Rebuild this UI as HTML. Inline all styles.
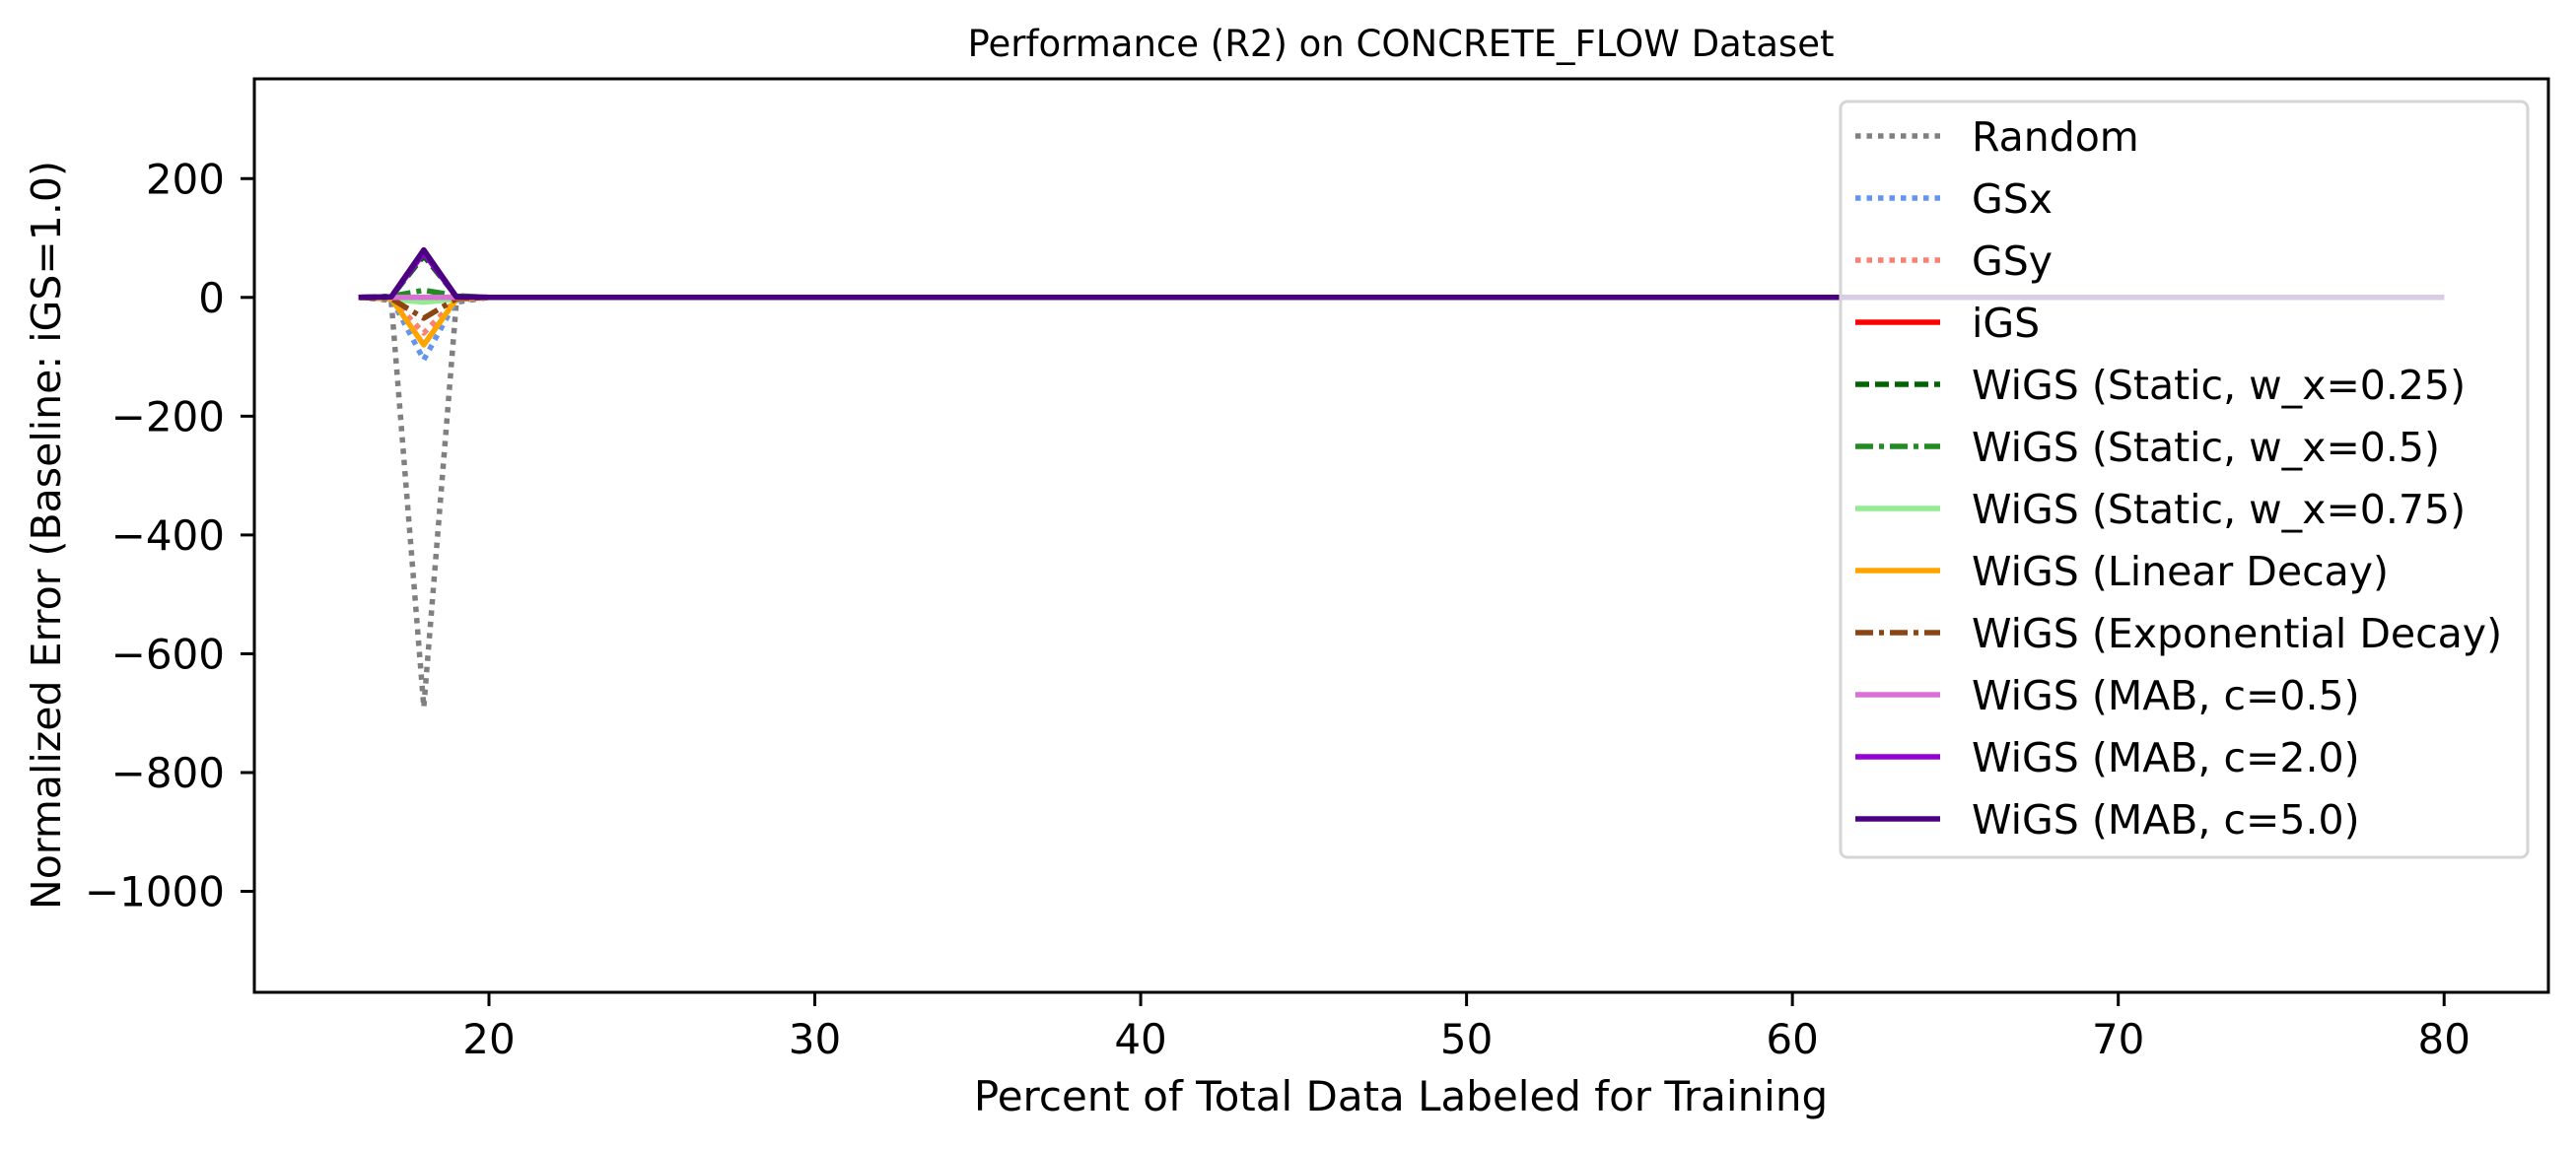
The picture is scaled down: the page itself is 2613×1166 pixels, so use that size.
<!DOCTYPE html>
<html><head><meta charset="utf-8"><style>html,body{margin:0;padding:0;background:#fff}svg{display:block;font-family:"DejaVu Sans","Liberation Sans",sans-serif}</style></head>
<body>
<svg id="chart" width="2613" height="1166" viewBox="0 0 2613 1166" xmlns="http://www.w3.org/2000/svg">
<rect width="2613" height="1166" fill="#fff"/>
<text x="1421" y="57" font-size="37" text-anchor="middle">Performance (R2) on CONCRETE_FLOW Dataset</text>
<g id="plot"></g>
<rect x="258" y="80" width="2327" height="927" fill="none" stroke="#000" stroke-width="3"/>
<g id="axes"></g>
<text x="1421" y="1127" font-size="42" text-anchor="middle">Percent of Total Data Labeled for Training</text>
<text transform="translate(61,543) rotate(-90)" font-size="41" text-anchor="middle">Normalized Error (Baseline: iGS=1.0)</text>
<g id="legend"></g>
</svg>
<script>
const xs = [16,17,18,19,20,25,30,35,40,45,50,55,60,65,70,75,80];
const randomVals = [0,-5,-690,-8,0,0,0,0,0,0,0,0,0,0,0,0,0];
const gsxVals = [0,-2,-105,-5,0,0,0,0,0,0,0,0,0,0,0,0,0];
const gsyVals = [0,-2,-60,-3,0,0,0,0,0,0,0,0,0,0,0,0,0];
const igsVals = [0,0,0,0,0,0,0,0,0,0,0,0,0,0,0,0,0];
const static25Vals = [0,1,70,2,0,0,0,0,0,0,0,0,0,0,0,0,0];
const static50Vals = [0,2,12,3,0,0,0,0,0,0,0,0,0,0,0,0,0];
const static75Vals = [0,-3,-8,-3,0,0,0,0,0,0,0,0,0,0,0,0,0];
const linearVals = [0,-2,-80,-3,0,0,0,0,0,0,0,0,0,0,0,0,0];
const expVals = [0,-2,-35,-2,0,0,0,0,0,0,0,0,0,0,0,0,0];
const mab05Vals = [0,0,0,0,0,0,0,0,0,0,0,0,0,0,0,0,0];
const mab2Vals = [0,1,75,1,0,0,0,0,0,0,0,0,0,0,0,0,0];
const mab5Vals = [0,1,80,1,0,0,0,0,0,0,0,0,0,0,0,0,0];
const xTicks = [20,30,40,50,60,70,80];
const yTicks = [200,0,-200,-400,-600,-800,-1000];
const seriesNames = ["Random","GSx","GSy","iGS","WiGS (Static, w_x=0.25)","WiGS (Static, w_x=0.5)","WiGS (Static, w_x=0.75)","WiGS (Linear Decay)","WiGS (Exponential Decay)","WiGS (MAB, c=0.5)","WiGS (MAB, c=2.0)","WiGS (MAB, c=5.0)"];

const NS="http://www.w3.org/2000/svg";
const X0=258,X1=2585,Y0=80,Y1=1007,xmin=12.8,xmax=83.2,ymin=-1170,ymax=368;
const sx=v=>X0+(v-xmin)/(xmax-xmin)*(X1-X0);
const sy=v=>Y1-(v-ymin)/(ymax-ymin)*(Y1-Y0);
const W=5.5;
const styles=[
 {c:"#808080",d:"5.5 6",v:randomVals},
 {c:"#6495ed",d:"5.5 6",v:gsxVals},
 {c:"#fa8072",d:"5.5 6",v:gsyVals},
 {c:"#ff0000",d:"",v:igsVals},
 {c:"#006400",d:"14 6",v:static25Vals},
 {c:"#228b22",d:"18 6 5 6",v:static50Vals},
 {c:"#90ee90",d:"",v:static75Vals},
 {c:"#ffa500",d:"",v:linearVals},
 {c:"#8b4513",d:"18 6 5 6",v:expVals},
 {c:"#da70d6",d:"",v:mab05Vals},
 {c:"#9400d3",d:"",v:mab2Vals},
 {c:"#4b0082",d:"",v:mab5Vals}];
const plot=document.getElementById('plot');
styles.forEach((s,i)=>{
 const p=document.createElementNS(NS,'polyline');
 p.setAttribute('points',xs.map((x,j)=>sx(x)+','+sy(s.v[j])).join(' '));
 p.setAttribute('fill','none');p.setAttribute('stroke',s.c);p.setAttribute('stroke-width',W);
 if(s.d)p.setAttribute('stroke-dasharray',s.d);
 p.setAttribute('stroke-linejoin','round');
 
 
 plot.appendChild(p);
});
const axes=document.getElementById('axes');
xTicks.forEach(t=>{
 const l=document.createElementNS(NS,'line');
 l.setAttribute('x1',sx(t));l.setAttribute('x2',sx(t));l.setAttribute('y1',Y1);l.setAttribute('y2',Y1+14);l.setAttribute('stroke','#000');l.setAttribute('stroke-width',3);
 
 
 axes.appendChild(l);
 const tx=document.createElementNS(NS,'text');
 tx.setAttribute('x',sx(t));tx.setAttribute('y',1069);tx.setAttribute('font-size','42');tx.setAttribute('text-anchor','middle');tx.textContent=t;
 
 
 axes.appendChild(tx);
});
yTicks.forEach(t=>{
 const l=document.createElementNS(NS,'line');
 l.setAttribute('x1',X0-14);l.setAttribute('x2',X0);l.setAttribute('y1',sy(t));l.setAttribute('y2',sy(t));l.setAttribute('stroke','#000');l.setAttribute('stroke-width',3);
 
 
 axes.appendChild(l);
 const tx=document.createElementNS(NS,'text');
 tx.setAttribute('x',X0-30);tx.setAttribute('y',sy(t)+15);tx.setAttribute('font-size','42');tx.setAttribute('text-anchor','end');tx.textContent=t<0?'\u2212'+Math.abs(t):t;
 
 
 axes.appendChild(tx);
});
const lg=document.getElementById('legend');
const box=document.createElementNS(NS,'rect');
box.setAttribute('x',1867);box.setAttribute('y',103);box.setAttribute('width',697);box.setAttribute('height',767);box.setAttribute('rx',7);
box.setAttribute('fill','rgba(255,255,255,0.8)');box.setAttribute('stroke','#d5d5d5');box.setAttribute('stroke-width',3);


lg.appendChild(box);
seriesNames.forEach((n,i)=>{
 const y=138+i*63;const s=styles[i];
 const l=document.createElementNS(NS,'line');
 l.setAttribute('x1',1882);l.setAttribute('x2',1968);l.setAttribute('y1',y);l.setAttribute('y2',y);l.setAttribute('stroke',s.c);l.setAttribute('stroke-width',W);
 if(s.d)l.setAttribute('stroke-dasharray',s.d);
 
 
 lg.appendChild(l);
 const tx=document.createElementNS(NS,'text');
 tx.setAttribute('x',2000);tx.setAttribute('y',y+15);tx.setAttribute('font-size','41');tx.textContent=n;
 
 
 lg.appendChild(tx);
});
</script>
</body></html>
